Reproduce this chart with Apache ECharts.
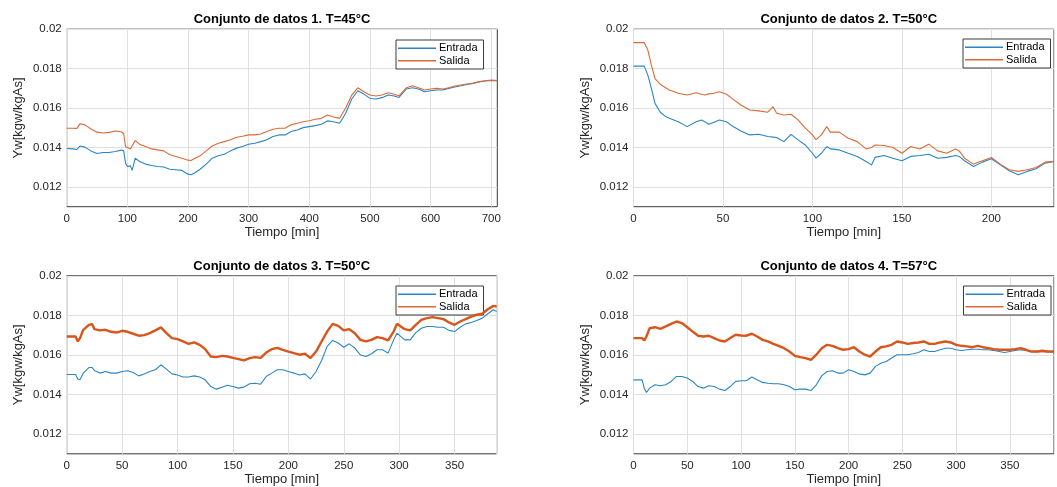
<!DOCTYPE html>
<html>
<head>
<meta charset="utf-8">
<script src="https://cdn.jsdelivr.net/npm/echarts@6/dist/echarts.min.js"></script>
<style>
  html, body { margin: 0; padding: 0; background: #fff; }
  #chart { width: 1057px; height: 487px; }
</style>
</head>
<body>
<div id="chart"></div>
<script>
// Humedad absoluta del aire (Yw) a la entrada y a la salida, cuatro ensayos.

const titulos = [
  'Conjunto de datos 1. T=45°C',
  'Conjunto de datos 2. T=50°C',
  'Conjunto de datos 3. T=50°C',
  'Conjunto de datos 4. T=57°C'
];
const nombresSeries = ['Entrada', 'Salida'];
const etiquetaX = 'Tiempo [min]';
const etiquetaY = 'Yw[kgw/kgAs]';
const ticksY = [0.012, 0.014, 0.016, 0.018, 0.02];

// Conjunto 1
const tiempo1 = [0, 10, 17, 22, 30, 40, 50, 60, 70, 80, 90, 94, 97, 100, 105, 108, 113, 120, 130, 140,
  150, 160, 170, 180, 190, 200, 205, 210, 220, 230, 240, 250, 260, 270, 280, 290, 300, 310, 320, 330,
  340, 350, 360, 370, 380, 390, 400, 410, 420, 430, 440, 450, 460, 470, 480, 490, 500, 510, 520, 530,
  540, 548, 560, 570, 580, 590, 600, 610, 620, 630, 640, 650, 660, 670, 680, 690, 700, 710];
const entrada1 = [0.01395, 0.01393, 0.01390, 0.01408, 0.01402, 0.01383, 0.01370, 0.01375, 0.01375, 0.01380,
  0.01387, 0.01383, 0.01321, 0.01304, 0.01307, 0.01284, 0.01346, 0.01329, 0.01316, 0.01309,
  0.01304, 0.01301, 0.01290, 0.01287, 0.01284, 0.01265, 0.01262, 0.01270, 0.01290, 0.01316,
  0.01346, 0.01358, 0.01366, 0.01383, 0.01397, 0.01405, 0.01417, 0.01422, 0.01430, 0.01439,
  0.01456, 0.01464, 0.01464, 0.01481, 0.01489, 0.01501, 0.01506, 0.01511, 0.01518, 0.01535,
  0.01531, 0.01523, 0.01574, 0.01646, 0.01688, 0.01671, 0.01649, 0.01646, 0.01653, 0.01666,
  0.01661, 0.01654, 0.01697, 0.01703, 0.01697, 0.01683, 0.01688, 0.01692, 0.01692, 0.01700,
  0.01707, 0.01713, 0.01720, 0.01725, 0.01732, 0.01737, 0.01740, 0.01739];
const salida1 = [0.01498, 0.01498, 0.01497, 0.01521, 0.01515, 0.01494, 0.01478, 0.01474, 0.01477, 0.01484,
  0.01480, 0.01470, 0.01405, 0.01400, 0.01393, 0.01398, 0.01435, 0.01417, 0.01405, 0.01393,
  0.01388, 0.01383, 0.01363, 0.01355, 0.01346, 0.01336, 0.01334, 0.01343, 0.01358, 0.01383,
  0.01408, 0.01422, 0.01430, 0.01439, 0.01452, 0.01457, 0.01464, 0.01464, 0.01469, 0.01481,
  0.01493, 0.01498, 0.01498, 0.01515, 0.01523, 0.01531, 0.01536, 0.01543, 0.01548, 0.01565,
  0.01555, 0.01548, 0.01600, 0.01666, 0.01703, 0.01683, 0.01666, 0.01661, 0.01666, 0.01678,
  0.01670, 0.01663, 0.01703, 0.01713, 0.01703, 0.01692, 0.01697, 0.01700, 0.01697, 0.01703,
  0.01712, 0.01717, 0.01722, 0.01727, 0.01734, 0.01739, 0.01742, 0.01740];

// Conjunto 2
const tiempo2 = [0, 6, 8, 10, 12, 15, 18, 20, 25, 30, 35, 38, 40, 42, 45, 48, 52, 55, 60, 65,
  70, 75, 78, 80, 84, 88, 92, 96, 100, 102, 103, 105, 108, 110, 115, 120, 125, 130, 133, 135,
  140, 145, 150, 155, 160, 165, 170, 175, 180, 182, 185, 190, 195, 200, 205, 210, 215, 220, 225, 230, 235];
const entrada2 = [0.01813, 0.01813, 0.01767, 0.01700, 0.01624, 0.01579, 0.01557, 0.01548, 0.01531, 0.01506,
  0.01531, 0.01540, 0.01530, 0.01518, 0.01528, 0.01540, 0.01531, 0.01510, 0.01484, 0.01464,
  0.01467, 0.01456, 0.01453, 0.01451, 0.01430, 0.01467, 0.01439, 0.01413, 0.01371, 0.01346,
  0.01350, 0.01371, 0.01405, 0.01393, 0.01388, 0.01371, 0.01355, 0.01329, 0.01312, 0.01350,
  0.01360, 0.01346, 0.01333, 0.01355, 0.01360, 0.01366, 0.01346, 0.01350, 0.01360, 0.01355,
  0.01333, 0.01304, 0.01326, 0.01343, 0.01312, 0.01282, 0.01262, 0.01279, 0.01292, 0.01321, 0.01330];
const salida2 = [0.01932, 0.01932, 0.01894, 0.01818, 0.01750, 0.01720, 0.01703, 0.01692, 0.01675, 0.01666,
  0.01678, 0.01670, 0.01666, 0.01672, 0.01675, 0.01683, 0.01670, 0.01649, 0.01616, 0.01590,
  0.01586, 0.01579, 0.01607, 0.01574, 0.01565, 0.01569, 0.01540, 0.01498, 0.01464, 0.01440,
  0.01430, 0.01464, 0.01506, 0.01478, 0.01478, 0.01447, 0.01430, 0.01393, 0.01400, 0.01413,
  0.01410, 0.01400, 0.01371, 0.01405, 0.01393, 0.01417, 0.01383, 0.01371, 0.01393, 0.01383,
  0.01346, 0.01316, 0.01333, 0.01350, 0.01316, 0.01287, 0.01279, 0.01287, 0.01299, 0.01326, 0.01330];

// Conjunto 3
const tiempo3 = [0, 8, 10, 12, 15, 20, 23, 25, 30, 35, 40, 45, 50, 55, 60, 65, 70, 75, 80, 85,
  90, 95, 100, 105, 110, 115, 120, 125, 130, 135, 140, 145, 150, 155, 160, 165, 170, 175, 180, 185,
  190, 195, 200, 205, 210, 215, 220, 225, 230, 235, 240, 245, 250, 255, 260, 265, 270, 275, 280, 285,
  290, 295, 298, 305, 310, 315, 320, 325, 330, 335, 340, 345, 350, 355, 360, 365, 370, 375, 380, 385, 388];
const entrada3 = [0.01501, 0.01501, 0.01478, 0.01474, 0.01508, 0.01536, 0.01536, 0.01521, 0.01508, 0.01516,
  0.01508, 0.01508, 0.01516, 0.01520, 0.01511, 0.01494, 0.01504, 0.01516, 0.01525, 0.01550,
  0.01528, 0.01504, 0.01498, 0.01488, 0.01488, 0.01494, 0.01488, 0.01474, 0.01440, 0.01427,
  0.01437, 0.01447, 0.01440, 0.01432, 0.01437, 0.01454, 0.01457, 0.01452, 0.01491, 0.01508,
  0.01525, 0.01525, 0.01516, 0.01508, 0.01498, 0.01504, 0.01478, 0.01516, 0.01572, 0.01643,
  0.01673, 0.01660, 0.01639, 0.01656, 0.01634, 0.01600, 0.01592, 0.01606, 0.01626, 0.01626,
  0.01609, 0.01676, 0.01710, 0.01676, 0.01676, 0.01713, 0.01735, 0.01744, 0.01744, 0.01740,
  0.01740, 0.01724, 0.01718, 0.01740, 0.01757, 0.01764, 0.01774, 0.01786, 0.01808, 0.01828, 0.01820];
const salida3 = [0.01693, 0.01693, 0.01668, 0.01685, 0.01727, 0.01752, 0.01756, 0.01730, 0.01724, 0.01727,
  0.01717, 0.01713, 0.01722, 0.01717, 0.01707, 0.01697, 0.01700, 0.01710, 0.01724, 0.01739,
  0.01710, 0.01685, 0.01680, 0.01668, 0.01656, 0.01663, 0.01651, 0.01629, 0.01592, 0.01589,
  0.01595, 0.01592, 0.01585, 0.01579, 0.01572, 0.01584, 0.01589, 0.01585, 0.01612, 0.01629,
  0.01636, 0.01626, 0.01617, 0.01609, 0.01601, 0.01606, 0.01584, 0.01617, 0.01668, 0.01718,
  0.01757, 0.01747, 0.01724, 0.01730, 0.01710, 0.01676, 0.01668, 0.01676, 0.01690, 0.01685,
  0.01673, 0.01718, 0.01757, 0.01730, 0.01724, 0.01752, 0.01777, 0.01786, 0.01791, 0.01786,
  0.01781, 0.01764, 0.01752, 0.01769, 0.01781, 0.01794, 0.01803, 0.01808, 0.01831, 0.01848, 0.01845];

// Conjunto 4
const tiempo4 = [0, 8, 10, 12, 15, 20, 25, 30, 35, 40, 45, 50, 55, 60, 65, 70, 75, 80, 85, 90,
  95, 100, 105, 110, 115, 120, 125, 130, 135, 140, 145, 150, 155, 160, 165, 170, 175, 180, 185, 190,
  195, 200, 205, 210, 215, 220, 225, 230, 235, 240, 245, 250, 255, 260, 265, 270, 275, 280, 285, 290,
  295, 300, 305, 310, 315, 320, 325, 330, 335, 340, 345, 350, 355, 360, 365, 370, 375, 380, 385, 391];
const entrada4 = [0.01474, 0.01474, 0.01432, 0.01410, 0.01432, 0.01449, 0.01444, 0.01449, 0.01466, 0.01491,
  0.01491, 0.01483, 0.01466, 0.01440, 0.01432, 0.01444, 0.01440, 0.01427, 0.01420, 0.01440,
  0.01466, 0.01469, 0.01469, 0.01488, 0.01474, 0.01461, 0.01457, 0.01454, 0.01454, 0.01449,
  0.01440, 0.01424, 0.01427, 0.01427, 0.01420, 0.01449, 0.01494, 0.01516, 0.01520, 0.01508,
  0.01508, 0.01525, 0.01516, 0.01504, 0.01499, 0.01508, 0.01542, 0.01558, 0.01567, 0.01584,
  0.01601, 0.01601, 0.01601, 0.01606, 0.01612, 0.01626, 0.01617, 0.01617, 0.01626, 0.01634,
  0.01634, 0.01626, 0.01622, 0.01626, 0.01629, 0.01629, 0.01626, 0.01626, 0.01622, 0.01617,
  0.01612, 0.01617, 0.01622, 0.01626, 0.01622, 0.01617, 0.01615, 0.01618, 0.01615, 0.01615];
const salida4 = [0.01685, 0.01685, 0.01673, 0.01693, 0.01735, 0.01740, 0.01732, 0.01744, 0.01757, 0.01769,
  0.01761, 0.01740, 0.01718, 0.01697, 0.01693, 0.01697, 0.01685, 0.01673, 0.01668, 0.01685,
  0.01702, 0.01698, 0.01697, 0.01707, 0.01693, 0.01676, 0.01668, 0.01656, 0.01646, 0.01634,
  0.01617, 0.01595, 0.01589, 0.01584, 0.01575, 0.01601, 0.01634, 0.01651, 0.01646, 0.01634,
  0.01626, 0.01629, 0.01639, 0.01617, 0.01601, 0.01592, 0.01617, 0.01639, 0.01643, 0.01651,
  0.01668, 0.01663, 0.01656, 0.01660, 0.01663, 0.01668, 0.01656, 0.01656, 0.01663, 0.01668,
  0.01663, 0.01651, 0.01646, 0.01643, 0.01639, 0.01646, 0.01639, 0.01634, 0.01629, 0.01626,
  0.01626, 0.01626, 0.01629, 0.01634, 0.01626, 0.01617, 0.01617, 0.01621, 0.01617, 0.01617];

const conjuntos = [
  { tiempo: tiempo1, entrada: entrada1, salida: salida1, xMax: 710, paso: 100 },
  { tiempo: tiempo2, entrada: entrada2, salida: salida2, xMax: 235, paso: 50 },
  { tiempo: tiempo3, entrada: entrada3, salida: salida3, xMax: 388, paso: 50 },
  { tiempo: tiempo4, entrada: entrada4, salida: salida4, xMax: 391, paso: 50 }
];

// Layout of the 2x2 panels (pixels)
const paneles = [
  { left: 66.7, top: 29.2, width: 430.6, height: 177.5, legendLeft: 396, legendTop: 40, titleY: 13 },
  { left: 633.5, top: 29.2, width: 430.5, height: 177.5, legendLeft: 963, legendTop: 39, titleY: 13 },
  { left: 66.7, top: 275.8, width: 430.0, height: 178.0, legendLeft: 396, legendTop: 286, titleY: 259.5 },
  { left: 633.5, top: 275.8, width: 430.5, height: 178.0, legendLeft: 963.5, legendTop: 286, titleY: 259.5 }
];

const FONT = '"Liberation Sans", Arial, Helvetica, sans-serif';
const COLOR_ENTRADA = '#2a85c2';
const COLOR_SALIDA = '#dc6a36';
const COLOR_SALIDA_DENSA = '#d8561c';
const TXT = '#262626';
const BOX = '#3a3a3a';
const GRIDLINE = '#e0e0e0';

const grid = [], xAxis = [], yAxis = [], series = [], legend = [], title = [];

paneles.forEach((p, i) => {
  const c = conjuntos[i];
  grid.push({
    left: p.left, top: p.top, width: p.width, height: p.height,
    show: true, borderColor: BOX, borderWidth: 1, backgroundColor: '#fff'
  });
  title.push({
    text: titulos[i],
    left: p.left + p.width / 2,
    top: p.titleY,
    textAlign: 'center',
    padding: 0,
    textStyle: { fontFamily: FONT, fontSize: 13, fontWeight: 'bold', color: '#000' }
  });
  // x axis: ticks every half step, labels and grid lines every full step
  xAxis.push({
    type: 'value', gridIndex: i, min: 0, max: c.xMax, interval: c.paso / 2,
    name: etiquetaX, nameLocation: 'middle', nameGap: 19,
    nameTextStyle: { fontFamily: FONT, fontSize: 13, color: TXT },
    axisLine: { show: false },
    axisTick: { show: false },
    axisLabel: {
      fontFamily: FONT, fontSize: 11.5, color: TXT, margin: 6,
      formatter: v => (Math.round(v) % c.paso === 0 && Math.abs(v - Math.round(v)) < 1e-6 ? String(Math.round(v)) : '')
    },
    splitLine: { show: true, lineStyle: { color: [GRIDLINE, 'rgba(0,0,0,0)'], width: 1 } }
  });
  // y axis: steps of 0.001, labels and grid lines every 0.002
  yAxis.push({
    type: 'value', gridIndex: i, min: 0.011, max: 0.02, interval: 0.001,
    name: etiquetaY, nameLocation: 'middle', nameGap: 42, nameRotate: 90,
    nameTextStyle: { fontFamily: FONT, fontSize: 13, color: TXT },
    axisLine: { show: false },
    axisTick: { show: false },
    axisLabel: {
      fontFamily: FONT, fontSize: 11.5, color: TXT, margin: 5,
      formatter: v => {
        const m = Math.round(v * 1000);
        return ticksY.some(t => Math.abs(t * 1000 - m) < 1e-6) ? String(+(m / 1000).toFixed(3)) : '';
      }
    },
    splitLine: { show: true, lineStyle: { color: ['rgba(0,0,0,0)', GRIDLINE], width: 1 } }
  });
});

conjuntos.forEach((c, i) => {
  const denso = i >= 2;
  series.push({
    name: nombresSeries[0], type: 'line', xAxisIndex: i, yAxisIndex: i,
    data: c.tiempo.map((t, k) => [t, c.entrada[k]]),
    showSymbol: false, symbol: 'none', smooth: false,
    lineStyle: { color: COLOR_ENTRADA, width: 1.1 }, itemStyle: { color: COLOR_ENTRADA },
    z: 3
  });
  series.push({
    name: nombresSeries[1], type: 'line', xAxisIndex: i, yAxisIndex: i,
    data: c.tiempo.map((t, k) => [t, c.salida[k]]),
    showSymbol: false, symbol: 'none', smooth: false,
    lineStyle: { color: denso ? COLOR_SALIDA_DENSA : COLOR_SALIDA, width: denso ? 2.4 : 1.1 },
    itemStyle: { color: denso ? COLOR_SALIDA_DENSA : COLOR_SALIDA },
    z: 4
  });
  legend.push({
    data: nombresSeries,
    orient: 'vertical',
    left: paneles[i].legendLeft, top: paneles[i].legendTop,
    icon: 'rect', itemWidth: 38, itemHeight: 1.5, itemGap: 0,
    padding: [2, 6, 2, 2],
    backgroundColor: '#fff', borderColor: BOX, borderWidth: 1, borderRadius: 0,
    selectedMode: false,
    textStyle: { fontFamily: FONT, fontSize: 11, color: '#000', lineHeight: 12.5, padding: [0, 0, 0, -2] }
  });
});

const chart = echarts.init(document.getElementById('chart'), null, { renderer: 'canvas' });
chart.setOption({
  animation: false,
  backgroundColor: '#fff',
  title, grid, xAxis, yAxis, series, legend
});
</script>
</body>
</html>
